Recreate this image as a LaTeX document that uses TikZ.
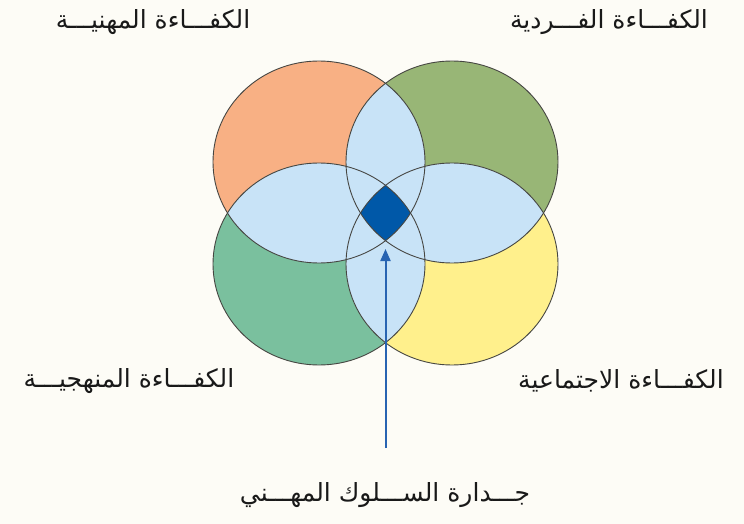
\documentclass[tikz,border=0pt]{standalone}
\usepackage{fontspec}
\usepackage{tikz}
\usetikzlibrary{arrows.meta}
\newfontfamily\arabicfont[Script=Arabic]{DejaVu Sans}
\TeXXeTstate=1
\definecolor{paper}{RGB}{253, 252, 246}
\definecolor{profpeach}{RGB}{248, 176, 132}
\definecolor{indivsage}{RGB}{152, 182, 118}
\definecolor{methodteal}{RGB}{122, 192, 158}
\definecolor{socialyellow}{RGB}{255, 240, 140}
\definecolor{overlapblue}{RGB}{200, 227, 247}
\definecolor{corenavy}{RGB}{0, 88, 168}
\definecolor{pointerblue}{RGB}{40, 100, 178}
\definecolor{rimgrey}{RGB}{70, 70, 66}

\begin{document}
\begin{tikzpicture}[x=1pt, y=-1pt,
    ring/.style={x radius=106pt, y radius=101pt},
    caption/.style={font=\arabicfont\fontsize{25}{30}\selectfont, text=black!90}]
    % Canvas
    \fill[paper] (0,0) rectangle (744,524);

    % Circle centres
    \coordinate (ctl) at (319,162);
    \coordinate (ctr) at (452,162);
    \coordinate (cbl) at (319,264);
    \coordinate (cbr) at (452,264);

    % Competence discs
    \fill[ring, profpeach] (ctl) circle;
    \fill[ring, indivsage] (ctr) circle;
    \fill[ring, methodteal] (cbl) circle;
    \fill[ring, socialyellow] (cbr) circle;

    % Pairwise overlaps
    \begin{scope}
        \clip[ring] (ctl) circle;
        \fill[ring, overlapblue] (ctr) circle;
        \fill[ring, overlapblue] (cbl) circle;
        \fill[ring, overlapblue] (cbr) circle;
    \end{scope}
    \begin{scope}
        \clip[ring] (ctr) circle;
        \fill[ring, overlapblue] (cbl) circle;
        \fill[ring, overlapblue] (cbr) circle;
    \end{scope}
    \begin{scope}
        \clip[ring] (cbl) circle;
        \fill[ring, overlapblue] (cbr) circle;
    \end{scope}

    % Common core of all four
    \begin{scope}
        \clip[ring] (ctl) circle;
        \clip[ring] (ctr) circle;
        \clip[ring] (cbl) circle;
        \fill[ring, corenavy] (cbr) circle;
    \end{scope}

    % Outlines
    \draw[ring, rimgrey, line width=0.9pt] (ctl) circle;
    \draw[ring, rimgrey, line width=0.9pt] (ctr) circle;
    \draw[ring, rimgrey, line width=0.9pt] (cbl) circle;
    \draw[ring, rimgrey, line width=0.9pt] (cbr) circle;

    % Labels
    \node[caption] (prof) at (153,22) {\beginR الكفـــاءة المهنيـــة\endR};
    \node[caption] (indiv) at (609,22) {\beginR الكفـــاءة الفـــردية\endR};
    \node[caption] (method) at (129,381) {\beginR الكفـــاءة المنهجيـــة\endR};
    \node[caption] (social) at (621,381) {\beginR الكفـــاءة الاجتماعية\endR};
    \node[caption] (merit) at (385,495) {\beginR جـــدارة الســـلوك المهـــني\endR};

    % Pointer to the core
    \coordinate (core) at (385.5,249);
    \coordinate (stem) at (385.5,448);
    \draw[->, >={Triangle[length=12pt, width=10pt]}, pointerblue, line width=2pt] (stem) -- (core);
\end{tikzpicture}
\end{document}
